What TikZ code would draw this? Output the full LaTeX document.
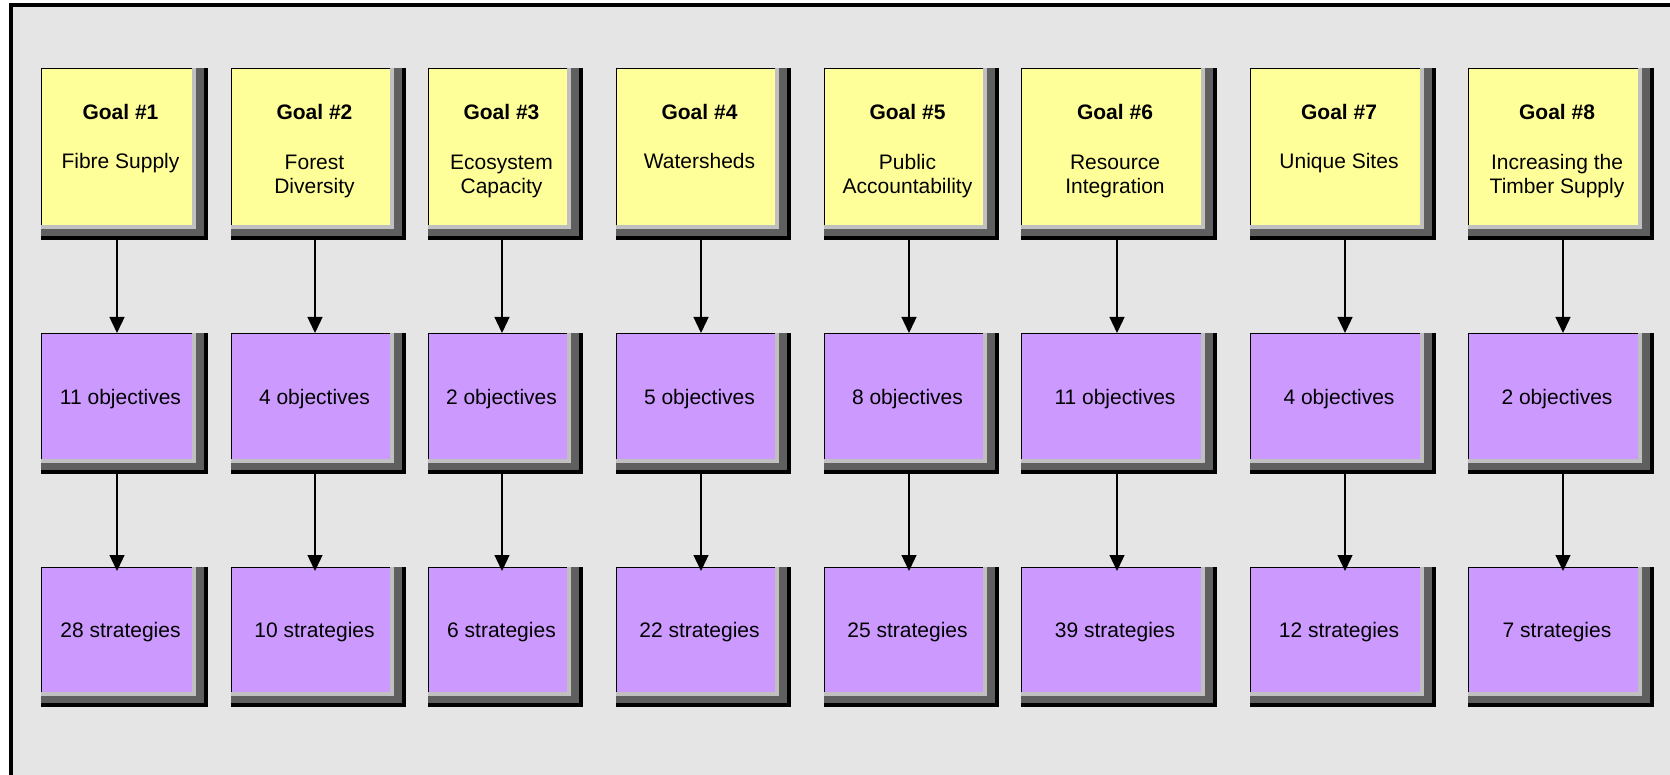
\documentclass[tikz,border=0pt]{standalone}
\usepackage{fontspec}
\setmainfont{Liberation Sans}
\usetikzlibrary{arrows.meta}
\definecolor{bg}{HTML}{E5E5E5}
\definecolor{goalc}{HTML}{FFFF99}
\definecolor{objc}{HTML}{CC99FF}
\definecolor{lgr}{HTML}{C0C0C0}
\definecolor{dgr}{HTML}{5F5F5F}
\newcommand\bevbox[6]{%
  \fill[black] (#2,#3) rectangle (#4,#5);
  \fill[dgr] (#2,#3) rectangle ({#4-4},{#5-4});
  \fill[lgr] (#2,#3) rectangle ({#4-12},{#5-11});
  \node[face, fill=#6, minimum width={(#4-16-#2)*1pt}, minimum height={(#5-15-#3)*1pt}, anchor=north west] (#1) at (#2,#3) {};
  \draw[line width=1.4pt] ([xshift=0.7pt]#1.south west) -- ([xshift=0.7pt,yshift=-0.7pt]#1.north west) -- ([yshift=-0.7pt]#1.north east);
}
\begin{document}
\begin{tikzpicture}[x=1pt,y=-1pt,
  face/.style={draw=none, inner sep=0pt, outer sep=0pt, rectangle},
  txt/.style={inner sep=0pt, outer sep=0pt, align=center, anchor=base, font=\fontsize{21}{24.7}\selectfont},
  ttl/.style={txt, font=\fontsize{21}{24.7}\selectfont\bfseries},
  arr/.style={line width=1.3pt, -{Triangle[width=15pt,length=16pt]}}]
\useasboundingbox (0,0) rectangle (1670,775);
\clip (0,0) rectangle (1670,775);
\fill[white] (0,0) rectangle (1670,775);
\fill[bg] (10.5,4.7) rectangle (1700,800);
\draw[line width=4pt] (10.5,800) -- (10.5,4.7) -- (1700,4.7);
\foreach \i/\L/\R/\ax/\sub/\sy/\no/\ns in {
  1/41/208/117/{Fibre Supply}/169/11/28,
  2/231/406/315/{Forest\\Diversity}/194/4/10,
  3/428/583/502/{Ecosystem\\Capacity}/194/2/6,
  4/616/791/701/{Watersheds}/169/5/22,
  5/824/999/909/{Public\\Accountability}/194/8/25,
  6/1021/1217/1117/{Resource\\Integration}/194/11/39,
  7/1250/1436/1345/{Unique Sites}/169/4/12,
  8/1468/1654/1563/{Increasing the\\Timber Supply}/194/2/7}{
  \pgfmathsetmacro\tx{(\L+\R)/2-4}
  \bevbox{g\i}{\L}{68}{\R}{240}{goalc}
  \bevbox{o\i}{\L}{333}{\R}{474}{objc}
  \bevbox{s\i}{\L}{567}{\R}{707}{objc}
  \node[ttl] (gt\i) at (\tx,119.5) {Goal \#\i};
  \node[txt] (gs\i) at (\tx,\sy) {\sub};
  \node[txt] (ot\i) at (\tx,404) {\no\ objectives};
  \node[txt] (st\i) at (\tx,637) {\ns\ strategies};
  \coordinate (a\i) at (\ax,0);
  \draw[arr] ([yshift=-15pt]g\i.south -| a\i) -- (o\i.north -| a\i);
  \draw[arr, shorten >=-4pt] ([yshift=-15pt]o\i.south -| a\i) -- (s\i.north -| a\i);
}
\end{tikzpicture}
\end{document}
